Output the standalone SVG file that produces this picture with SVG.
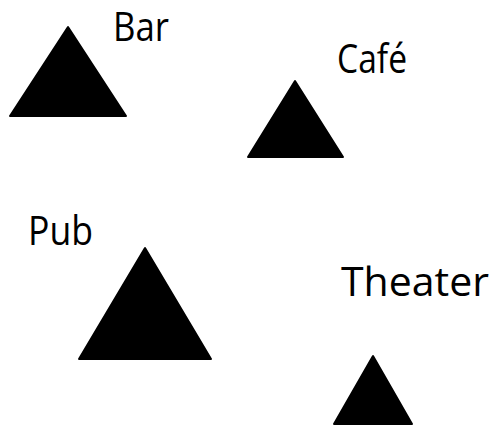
<svg xmlns="http://www.w3.org/2000/svg" width="497" height="426" viewBox="0 0 497 426">
<style>
.tri{fill:#000;stroke:#000;stroke-width:2;stroke-linejoin:round}
.lbl{font-family:"Open Sans","Liberation Sans",sans-serif;font-size:40px;fill:#000}
</style>
<rect width="497" height="426" fill="#fff"/>
<g id="bar">
<polygon class="tri" points="68,27 10,116 126,116"/>
<text class="lbl" x="113" y="41" textLength="56" lengthAdjust="spacingAndGlyphs">Bar</text>
</g>
<g id="cafe">
<polygon class="tri" points="295,81 248,157 343,157"/>
<text class="lbl" x="337" y="73" textLength="70" lengthAdjust="spacingAndGlyphs">Café</text>
</g>
<g id="pub">
<polygon class="tri" points="145,248 79,359 211,359"/>
<text class="lbl" x="28" y="245" textLength="65" lengthAdjust="spacingAndGlyphs">Pub</text>
</g>
<g id="theater">
<polygon class="tri" points="373,356 334,424 412,424"/>
<text class="lbl" x="341" y="296" textLength="148" lengthAdjust="spacingAndGlyphs">Theater</text>
</g>
<g id="connectors"></g>
</svg>
